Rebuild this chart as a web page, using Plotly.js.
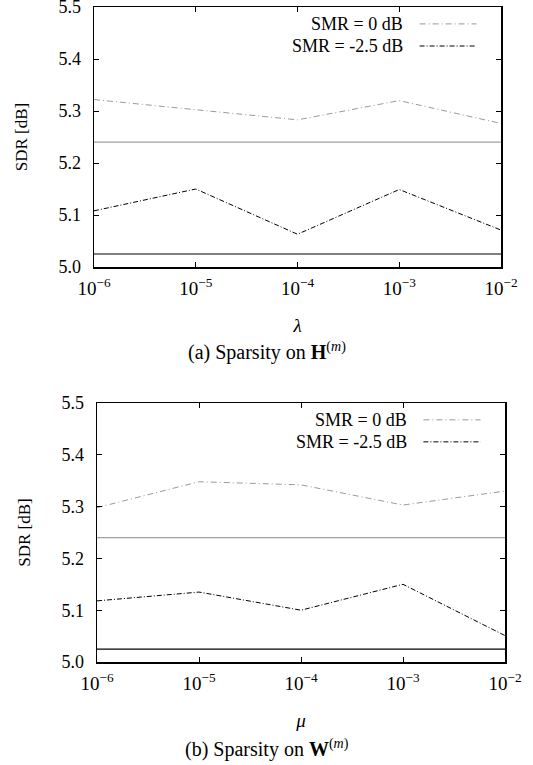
<!DOCTYPE html>
<html>
<head>
<meta charset="utf-8">
<script src="https://cdn.plot.ly/plotly-3.0.1.min.js"></script>
<style>html,body{margin:0;padding:0;background:#fff;}#chart{width:533px;height:765px;}</style>
</head>
<body>
<div id="chart"></div>
<script>
// ---- data ----
const xValues = [1e-6, 1e-5, 1e-4, 1e-3, 1e-2];
const xTickText = ["10<sup>−6</sup>", "10<sup>−5</sup>", "10<sup>−4</sup>", "10<sup>−3</sup>", "10<sup>−2</sup>"];
const seriesNames = ["SMR = 0 dB", "SMR = -2.5 dB"];
// (a) Sparsity on H(m), varying lambda
const lambdaSMR0 = [5.322, 5.303, 5.283, 5.320, 5.276];
const lambdaSMRm25 = [5.108, 5.150, 5.063, 5.149, 5.071];
// (b) Sparsity on W(m), varying mu
const muSMR0 = [5.298, 5.348, 5.342, 5.303, 5.330];
const muSMRm25 = [5.118, 5.135, 5.100, 5.150, 5.051];
// baselines (no sparsity)
const baselineSMR0 = 5.24;
const baselineSMRm25 = 5.025;
const yTicks = [5.0, 5.1, 5.2, 5.3, 5.4, 5.5];

const FONT = "Liberation Serif";
const grayC = "#9a9a9a";
const dashGray = "6px,3px,1px,3px";
const dashBlack = "5px,2px,1px,2px";

function seriesTrace(y, xa, ya, color, dash, name) {
  return {x: xValues, y: y, xaxis: xa, yaxis: ya, type: "scatter", mode: "lines",
    name: name, showlegend: false, line: {color: color, width: 1, dash: dash}};
}
function baseTrace(v, xa, ya, color) {
  return {x: [xValues[0], xValues[xValues.length-1]], y: [v, v], xaxis: xa, yaxis: ya,
    type: "scatter", mode: "lines", showlegend: false, hoverinfo: "skip",
    line: {color: color, width: 1.2}};
}

const traces = [
  baseTrace(baselineSMR0, "x", "y", "#a0a0a0"),
  baseTrace(baselineSMRm25, "x", "y", "#000"),
  seriesTrace(lambdaSMR0, "x", "y", grayC, dashGray, seriesNames[0]),
  seriesTrace(lambdaSMRm25, "x", "y", "#000", dashBlack, seriesNames[1]),
  baseTrace(baselineSMR0, "x2", "y2", "#a0a0a0"),
  baseTrace(baselineSMRm25, "x2", "y2", "#000"),
  seriesTrace(muSMR0, "x2", "y2", grayC, dashGray, seriesNames[0]),
  seriesTrace(muSMRm25, "x2", "y2", "#000", dashBlack, seriesNames[1])
];

function xAxis(domain, anchor, title) {
  return {type: "log", domain: domain, anchor: anchor, range: [-6, -2],
    tickvals: xValues, ticktext: xTickText, ticks: "inside", ticklen: 5, tickcolor: "#000",
    mirror: "allticks", showline: true, linecolor: "#000", linewidth: 1.5, showgrid: false, zeroline: false,
    ticklabelstandoff: 4, ticklabeloverflow: "allow",
    tickfont: {family: FONT, size: 19, color: "#000"},
    title: {text: title, font: {family: FONT, size: 19, color: "#000"}, standoff: 20}};
}
function yAxis(domain, anchor) {
  return {domain: domain, anchor: anchor, range: [5.0, 5.5], tickvals: yTicks, tickformat: ".1f",
    ticks: "inside", ticklen: 5, tickcolor: "#000", mirror: "allticks", showline: true,
    linecolor: "#000", linewidth: 1.5, showgrid: false, zeroline: false, ticklabelstandoff: 8,
    ticklabeloverflow: "allow",
    tickfont: {family: FONT, size: 18, color: "#000"},
    title: {text: "SDR [dB]", font: {family: FONT, size: 17, color: "#000"}, standoff: 26}};
}

const annotations = [];
const shapes = [];
[["x", "y"], ["x2", "y2"]].forEach(([xa, ya]) => {
  const rows = [[0.935, grayC, dashGray], [0.850, "#000", dashBlack]];
  rows.forEach((r, i) => {
    annotations.push({xref: xa + " domain", yref: ya + " domain", x: 0.765, y: r[0],
      xanchor: "right", yanchor: "middle", showarrow: false, text: seriesNames[i],
      font: {family: FONT, size: 18, color: "#000"}});
    shapes.push({type: "line", xref: xa + " domain", yref: ya + " domain",
      x0: 0.80, x1: 0.94, y0: r[0], y1: r[0], line: {color: r[1], width: 1, dash: r[2]}});
  });
});
annotations.push({xref: "paper", yref: "paper", x: 0.5, y: 1 - 352/765, xanchor: "center", yanchor: "middle",
  showarrow: false, text: "(a) Sparsity on <b>H</b><sup>(<i>m</i>)</sup>", font: {family: FONT, size: 20, color: "#000"}});
annotations.push({xref: "paper", yref: "paper", x: 0.5, y: 1 - 748/765, xanchor: "center", yanchor: "middle",
  showarrow: false, text: "(b) Sparsity on <b>W</b><sup>(<i>m</i>)</sup>", font: {family: FONT, size: 20, color: "#000"}});

const layout = {
  width: 533, height: 765, margin: {l: 0, r: 0, t: 0, b: 0},
  paper_bgcolor: "#fff", plot_bgcolor: "#fff", showlegend: false,
  font: {family: FONT, color: "#000"},
  xaxis: xAxis([94/533, 501/533], "y", "<i>λ</i>"),
  yaxis: yAxis([1 - 267/765, 1 - 7/765], "x"),
  xaxis2: xAxis([97/533, 505/533], "y2", "<i>μ</i>"),
  yaxis2: yAxis([1 - 662/765, 1 - 403/765], "x2"),
  annotations: annotations, shapes: shapes
};

Plotly.newPlot("chart", traces, layout, {staticPlot: true});
</script>
</body>
</html>
